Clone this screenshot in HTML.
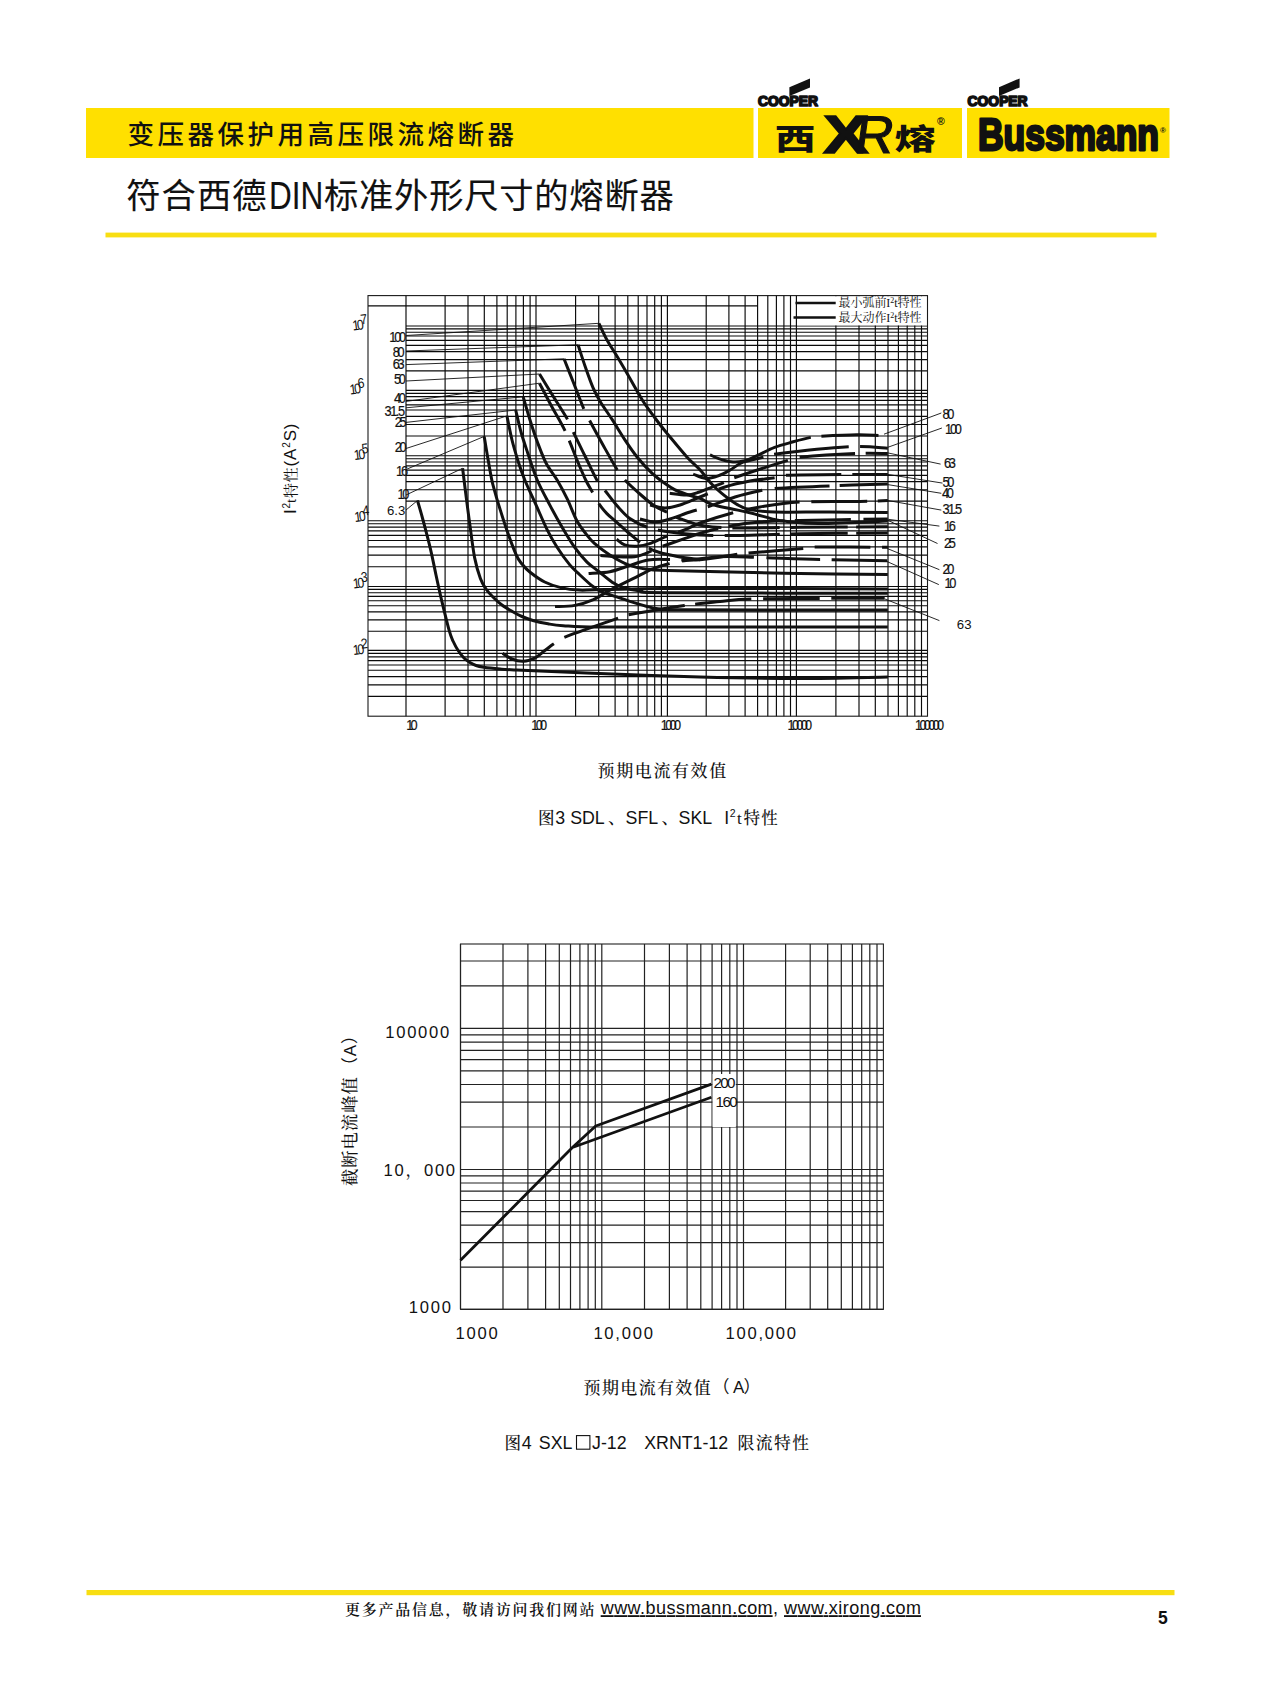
<!DOCTYPE html>
<html lang="zh-CN"><head><meta charset="utf-8"><title>变压器保护用高压限流熔断器</title>
<style>html,body{margin:0;padding:0;background:#fff}body{width:1287px;height:1689px;overflow:hidden}svg{display:block}text{white-space:pre}</style>
</head><body>
<svg width="1287" height="1689" viewBox="0 0 1287 1689">
<rect width="1287" height="1689" fill="#fff"/>
<g id="header">
<rect x="86" y="108" width="667.5" height="50" fill="#FFE000"/>
<rect x="758" y="108" width="204" height="50" fill="#FFE000"/>
<rect x="967" y="108" width="202.5" height="50" fill="#FFE000"/>
<text x="127.5" y="144" font-family='"Liberation Sans","Noto Sans CJK SC",sans-serif' font-size="26.5" font-weight="500" letter-spacing="3.5" fill="#111">变压器保护用高压限流熔断器</text>
<text x="126.3" y="207.5" font-family='"Liberation Sans","Noto Sans CJK SC",sans-serif' font-size="34.3" font-weight="400" fill="#111" stroke="#111" stroke-width="0.12" letter-spacing="1.0">符合西德</text>
<text transform="translate(269,209) scale(0.83,1)" font-family='"Liberation Sans","Noto Sans CJK SC",sans-serif' font-size="38" font-weight="400" fill="#111" stroke="#111" stroke-width="0.1" letter-spacing="0">DIN</text>
<text x="324" y="207.5" font-family='"Liberation Sans","Noto Sans CJK SC",sans-serif' font-size="34.3" font-weight="400" fill="#111" stroke="#111" stroke-width="0.12" letter-spacing="0.75">标准外形尺寸的熔断器</text>
<rect x="105.5" y="232.6" width="1051" height="4.8" fill="#F8DE12"/>
<polygon points="789.4,87.2 810.0,78.4 810.0,87.4 789.4,96.0" fill="#111"/>
<text x="758.0" y="106.2" font-family='"Liberation Sans","Noto Sans CJK SC",sans-serif' font-weight="bold" font-size="15" textLength="60" lengthAdjust="spacingAndGlyphs" fill="#111" stroke="#111" stroke-width="1.7" stroke-linejoin="round">COOPER</text>
<polygon points="999.0,87.2 1019.6,78.4 1019.6,87.4 999.0,96.0" fill="#111"/>
<text x="967.6" y="106.2" font-family='"Liberation Sans","Noto Sans CJK SC",sans-serif' font-weight="bold" font-size="15" textLength="60" lengthAdjust="spacingAndGlyphs" fill="#111" stroke="#111" stroke-width="1.7" stroke-linejoin="round">COOPER</text>
<text transform="translate(775,150) scale(1.39,1)" font-family='"Liberation Sans","Noto Sans CJK SC",sans-serif' font-weight="900" font-size="29" fill="#111">西</text>
<text transform="translate(894.5,150) scale(1.41,1)" font-family='"Liberation Sans","Noto Sans CJK SC",sans-serif' font-weight="900" font-size="29" fill="#111">熔</text>
<text transform="translate(823.3,153.4) scale(1.28,1)" font-family='"Liberation Sans","Noto Sans CJK SC",sans-serif' font-weight="bold" font-size="53" fill="#111" stroke="#111" stroke-width="1.6">X</text>
<text transform="translate(853.5,153.4) scale(1.0,1) skewX(-8)" font-family='"Liberation Sans","Noto Sans CJK SC",sans-serif' font-weight="normal" font-size="53" fill="#111" stroke="#111" stroke-width="1.1">R</text>
<text x="937" y="124.5" font-family='"Liberation Sans","Noto Sans CJK SC",sans-serif' font-size="10.5" font-weight="bold" fill="#111">®</text>
<text x="978" y="150.2" font-family='"Liberation Sans","Noto Sans CJK SC",sans-serif' font-weight="bold" font-size="45" textLength="181" lengthAdjust="spacingAndGlyphs" fill="#111" stroke="#111" stroke-width="2.8" stroke-linejoin="round">Bussmann</text>
<text x="1160" y="133" font-family='"Liberation Sans","Noto Sans CJK SC",sans-serif' font-size="8" font-weight="bold" fill="#111">®</text>
</g>
<g id="chart1">
<path d="M406.0 295.6V716.2 M445.1 295.6V716.2 M468.0 295.6V716.2 M484.3 295.6V716.2 M496.9 295.6V716.2 M507.2 295.6V716.2 M515.9 295.6V716.2 M523.4 295.6V716.2 M530.1 295.6V716.2 M536.0 295.6V716.2 M575.6 295.6V716.2 M598.7 295.6V716.2 M615.1 295.6V716.2 M627.8 295.6V716.2 M638.2 295.6V716.2 M647.0 295.6V716.2 M654.7 295.6V716.2 M661.4 295.6V716.2 M667.4 295.6V716.2 M706.2 295.6V716.2 M728.9 295.6V716.2 M745.1 295.6V716.2 M757.6 295.6V716.2 M767.8 295.6V716.2 M776.4 295.6V716.2 M783.9 295.6V716.2 M790.5 295.6V716.2 M796.4 295.6V716.2 M835.9 295.6V716.2 M859.0 295.6V716.2 M875.3 295.6V716.2 M888.0 295.6V716.2 M898.4 295.6V716.2 M907.2 295.6V716.2 M914.8 295.6V716.2 M921.5 295.6V716.2 M368.0 696.4H927.5 M368.0 684.8H927.5 M368.0 676.6H927.5 M368.0 670.2H927.5 M368.0 665.0H927.5 M368.0 660.6H927.5 M368.0 656.8H927.5 M368.0 653.4H927.5 M368.0 650.4H927.5 M368.0 631.2H927.5 M368.0 619.9H927.5 M368.0 611.9H927.5 M368.0 605.7H927.5 M368.0 600.7H927.5 M368.0 596.4H927.5 M368.0 592.7H927.5 M368.0 589.4H927.5 M368.0 586.5H927.5 M368.0 566.7H927.5 M368.0 555.1H927.5 M368.0 546.9H927.5 M368.0 540.5H927.5 M368.0 535.3H927.5 M368.0 530.9H927.5 M368.0 527.1H927.5 M368.0 523.7H927.5 M368.0 520.7H927.5 M406 501.1H927.5 M406 489.7H927.5 M406 481.6H927.5 M406 475.3H927.5 M406 470.1H927.5 M406 465.8H927.5 M406 462.0H927.5 M406 458.7H927.5 M406 455.7H927.5 M406 436.0H927.5 M406 424.5H927.5 M406 416.3H927.5 M406 410.0H927.5 M406 404.8H927.5 M406 400.4H927.5 M406 396.6H927.5 M406 393.3H927.5 M406 390.3H927.5 M406 370.9H927.5 M406 359.6H927.5 M406 351.6H927.5 M406 345.4H927.5 M406 340.3H927.5 M406 336.0H927.5 M406 332.2H927.5 M406 328.9H927.5 M406 326.0H927.5 M368.0 305.9H757.6" stroke="#0a0a0a" stroke-width="1.15" fill="none"/>
<rect x="797" y="296.2" width="130" height="29.2" fill="#fff"/>
<rect x="368.0" y="295.6" width="559.5" height="420.6" fill="none" stroke="#1a1a1a" stroke-width="1.1"/>
<path d="M795.5 303H835.7M793.5 317.5H835.7" stroke="#111" stroke-width="2.4"/>
<text x="838.5" y="307.3" font-family='"Liberation Serif","Noto Serif CJK SC",serif' font-size="12" fill="#111" textLength="83">最小弧前I<tspan dy="-4" font-size="8">2</tspan><tspan dy="4">t特性</tspan></text>
<text x="838.5" y="321.8" font-family='"Liberation Serif","Noto Serif CJK SC",serif' font-size="12" fill="#111" textLength="83">最大动作I<tspan dy="-4" font-size="8">2</tspan><tspan dy="4">t特性</tspan></text>
<path d="M417.5 500.5 C418.4 503.8 420.9 512.0 423.0 520.0 C425.1 528.0 428.1 539.1 430.3 548.3 C432.5 557.5 434.1 566.1 436.0 575.0 C437.9 583.9 439.8 592.8 442.0 601.9 C444.2 611.0 447.2 623.4 449.0 629.9 C450.8 636.4 451.4 637.5 453.0 641.0 C454.6 644.5 456.5 648.0 458.3 650.8 C460.1 653.6 462.1 656.0 464.0 658.0 C465.9 660.0 467.9 661.2 469.9 662.5 C471.9 663.8 473.7 664.7 476.0 665.5 C478.3 666.3 479.9 666.6 483.9 667.2 C487.9 667.8 494.6 668.5 500.0 669.0 C505.4 669.5 502.2 669.3 516.6 670.0 C531.0 670.7 555.9 671.8 586.5 673.0 C617.1 674.2 664.4 676.1 700.0 677.0 C735.6 677.9 768.7 678.5 800.0 678.5 C831.3 678.5 873.2 677.2 887.8 677.0" stroke="#111" stroke-width="3.0" fill="none" stroke-linejoin="round"/>
<path d="M462.6 468.3 C463.1 471.9 464.1 480.6 465.3 490.0 C466.5 499.4 468.3 513.7 469.9 525.0 C471.4 536.3 472.9 548.7 474.6 557.6 C476.4 566.5 478.5 573.4 480.4 578.6 C482.3 583.8 483.9 585.9 486.0 589.0 C488.1 592.1 490.5 594.5 493.2 597.2 C495.9 599.9 498.9 602.7 502.0 605.0 C505.1 607.3 508.6 609.3 511.9 611.2 C515.2 613.1 518.5 615.0 522.0 616.5 C525.5 618.0 528.6 619.3 532.9 620.5 C537.2 621.7 543.0 622.9 548.0 623.8 C553.0 624.7 554.9 625.2 563.2 625.7 C571.6 626.2 575.3 626.9 598.1 627.1 C620.9 627.3 651.7 627.0 700.0 627.0 C748.3 627.0 856.5 627.1 887.8 627.1" stroke="#111" stroke-width="3.0" fill="none" stroke-linejoin="round"/>
<path d="M484.2 436.4 C484.8 440.0 486.5 450.7 487.8 458.0 C489.1 465.3 490.7 474.7 491.8 480.0 C492.9 485.3 493.2 485.9 494.4 490.0 C495.5 494.1 496.6 498.3 498.7 504.9 C500.8 511.5 503.8 521.5 506.7 529.8 C509.6 538.1 513.6 548.9 516.1 554.6 C518.6 560.3 519.7 561.1 522.0 564.0 C524.3 566.9 526.0 569.0 529.8 572.0 C533.6 575.0 539.5 579.4 544.7 582.0 C549.9 584.6 555.0 586.2 560.8 587.6 C566.6 589.0 572.2 589.8 579.5 590.1 C586.8 590.4 584.3 589.8 604.4 589.5 C624.5 589.2 652.8 588.4 700.0 588.3 C747.2 588.2 856.5 588.8 887.8 588.9" stroke="#111" stroke-width="3.0" fill="none" stroke-linejoin="round"/>
<path d="M506.9 415.9 C507.8 419.9 510.1 432.2 512.0 440.0 C513.9 447.8 516.4 455.8 518.5 462.5 C520.6 469.2 521.9 472.9 524.8 480.0 C527.7 487.1 532.3 496.6 536.0 504.9 C539.7 513.2 543.7 522.8 547.2 529.8 C550.7 536.8 553.4 541.4 557.1 547.2 C560.8 553.0 565.9 560.1 569.6 564.6 C573.3 569.1 575.8 571.0 579.5 574.5 C583.2 578.0 588.2 582.8 591.9 585.7 C595.6 588.6 597.8 590.0 601.9 591.9 C606.0 593.8 612.4 595.4 616.8 596.9 C621.2 598.4 623.4 599.3 628.4 600.9 C633.4 602.5 641.8 605.1 647.0 606.5 C652.2 607.9 654.0 608.5 659.5 609.0 C665.0 609.5 642.0 609.6 680.0 609.8 C718.0 610.0 853.2 610.0 887.8 610.0" stroke="#111" stroke-width="3.0" fill="none" stroke-linejoin="round"/>
<path d="M515.7 410.0 C516.6 413.7 519.0 424.8 521.0 432.0 C523.0 439.2 525.1 445.2 527.8 453.2 C530.5 461.2 533.6 471.4 537.2 480.0 C540.9 488.6 545.6 497.0 549.7 504.9 C553.9 512.8 558.0 520.2 562.1 527.3 C566.2 534.3 570.4 541.4 574.5 547.2 C578.6 553.0 582.9 558.0 587.0 562.1 C591.1 566.2 595.2 568.6 599.4 572.0 C603.6 575.4 608.4 579.7 612.2 582.2 C616.0 584.7 617.4 585.7 622.2 587.2 C627.0 588.7 633.3 590.1 640.8 591.0 C648.3 591.9 625.8 592.4 667.0 592.8 C708.2 593.2 851.0 593.2 887.8 593.3" stroke="#111" stroke-width="3.0" fill="none" stroke-linejoin="round"/>
<path d="M523.2 396.8 C524.3 400.7 527.7 412.6 530.0 420.0 C532.3 427.4 534.5 434.3 537.2 441.5 C539.9 448.7 542.7 456.6 546.0 463.0 C549.3 469.4 553.6 474.1 557.1 480.0 C560.6 485.9 563.8 491.9 567.1 498.7 C570.4 505.5 573.9 515.2 577.0 521.0 C580.1 526.8 582.8 529.8 585.7 533.5 C588.6 537.2 590.4 539.8 594.4 543.4 C598.4 547.0 604.1 551.3 609.8 554.9 C615.5 558.5 622.2 562.4 628.4 564.8 C634.6 567.2 640.6 568.3 647.0 569.2 C653.4 570.1 654.8 570.0 667.0 570.4 C679.2 570.8 697.8 571.2 720.0 571.7 C742.2 572.2 772.0 573.0 800.0 573.5 C828.0 574.0 873.2 574.2 887.8 574.4" stroke="#111" stroke-width="3.0" fill="none" stroke-linejoin="round"/>
<path d="M578.0 344.8 C579.2 348.3 582.5 358.8 585.0 366.0 C587.5 373.2 590.6 382.0 593.1 387.9 C595.6 393.8 596.8 395.9 600.0 401.2 C603.2 406.5 608.2 413.5 612.4 419.9 C616.5 426.3 620.8 433.6 624.9 439.8 C629.0 446.0 632.8 451.6 637.3 457.2 C641.8 462.8 647.6 469.0 652.2 473.4 C656.8 477.8 661.0 480.6 664.7 483.3 C668.4 486.0 670.9 487.7 674.6 489.6 C678.3 491.5 682.9 493.0 687.1 494.5 C691.3 496.0 695.8 496.7 700.0 498.4 C704.2 500.1 707.4 502.9 712.4 504.6 C717.4 506.3 723.8 507.1 730.0 508.5 C736.2 509.9 742.4 510.9 749.8 512.7 C757.2 514.5 768.4 518.0 774.6 519.5 C780.8 521.0 779.4 520.8 787.0 521.5 C794.6 522.2 803.2 523.6 820.0 523.5 C836.8 523.4 876.5 521.5 887.8 521.1" stroke="#111" stroke-width="3.0" fill="none" stroke-linejoin="round"/>
<path d="M598.9 323.3 C600.2 326.1 604.1 334.7 607.0 340.0 C609.9 345.3 612.9 349.5 616.4 355.3 C619.9 361.1 623.7 367.6 628.0 375.0 C632.3 382.4 637.8 392.8 642.3 400.0 C646.8 407.2 650.9 412.4 655.0 418.0 C659.1 423.6 661.9 427.1 667.2 433.6 C672.6 440.1 681.6 451.2 687.1 457.2 C692.6 463.2 695.8 465.2 700.0 469.8 C704.2 474.4 708.2 480.4 712.4 484.7 C716.5 489.0 720.8 492.6 724.9 495.9 C729.0 499.2 733.1 502.3 737.3 504.6 C741.4 506.9 743.6 508.4 749.8 509.6 C756.0 510.8 761.2 511.6 774.6 512.0 C788.0 512.4 811.1 511.9 830.0 512.0 C848.9 512.1 878.2 512.3 887.8 512.4" stroke="#111" stroke-width="3.0" fill="none" stroke-linejoin="round"/>
<path d="M539.5 383.2 C541.6 387.2 547.7 399.0 552.0 407.0 C556.3 415.0 560.9 422.2 565.1 431.0 C569.3 439.8 573.6 451.8 577.0 460.0 C580.4 468.2 583.1 474.6 585.7 480.0 C588.3 485.4 590.4 488.5 592.6 492.4 C594.8 496.3 596.4 500.1 598.8 503.6 C601.2 507.1 603.9 510.5 606.9 513.6 C609.9 516.7 613.1 519.0 616.8 522.3 C620.5 525.6 625.4 530.2 629.3 533.5 C633.2 536.8 635.7 539.3 640.0 542.2 C644.3 545.1 649.2 548.7 655.0 551.0 C660.8 553.3 667.5 554.5 675.0 556.0 C682.5 557.5 695.8 559.2 700.0 559.8" stroke="#111" stroke-width="3.0" fill="none" stroke-dasharray="54.2 10.5 56.9 12.8 56.7 10.5 57.8 0.0"/>
<path d="M539.5 374.0 C541.8 377.7 548.3 388.4 553.0 396.0 C557.7 403.6 564.1 413.4 567.5 419.4 C570.9 425.4 570.4 426.1 573.3 432.2 C576.2 438.3 581.0 447.9 585.0 456.0 C589.0 464.1 594.1 475.4 597.4 481.1 C600.7 486.9 601.6 486.4 604.9 490.5 C608.2 494.6 613.1 501.3 617.3 506.0 C621.4 510.7 624.8 515.0 629.8 518.5 C634.8 522.0 640.5 525.0 647.2 527.2 C653.9 529.5 661.2 530.7 670.0 532.0 C678.8 533.3 688.3 534.4 700.0 535.0 C711.7 535.6 723.3 535.7 740.0 535.5 C756.7 535.3 775.4 534.2 800.0 533.8 C824.6 533.4 873.2 533.1 887.8 533.0" stroke="#111" stroke-width="3.0" fill="none" stroke-dasharray="53.3 14.1 54.5 12.1 57.1 11.0 55.9 11.4 55.1 11.2 56.6 8.4 36.8 0.0"/>
<path d="M564.0 358.8 C565.7 363.0 570.7 375.6 574.0 384.0 C577.3 392.4 581.2 402.8 583.8 408.9 C586.4 415.0 586.4 414.5 589.6 420.5 C592.8 426.5 598.4 436.8 603.0 445.0 C607.6 453.2 613.7 464.2 617.3 470.0 C620.9 475.8 620.6 475.6 624.8 479.9 C628.9 484.2 637.2 491.6 642.2 496.0 C647.2 500.4 650.5 503.3 654.6 506.0 C658.7 508.7 662.9 510.1 667.0 512.2 C671.1 514.3 673.3 516.2 679.5 518.5 C685.7 520.8 694.3 524.4 704.4 526.0 C714.5 527.6 724.1 527.8 740.0 528.0 C755.9 528.2 775.4 527.5 800.0 527.3 C824.6 527.1 873.2 526.8 887.8 526.7" stroke="#111" stroke-width="3.0" fill="none" stroke-dasharray="53.9 13.0 56.7 12.5 53.5 10.3 46.9 11.1 47.2 11.3 56.6 8.4 36.8 0.0"/>
<path d="M710.0 454.8 C711.5 455.4 715.2 457.5 718.7 458.6 C722.2 459.8 726.9 461.3 731.0 461.7 C735.1 462.1 739.3 461.9 743.5 461.0 C747.7 460.1 750.8 458.4 756.0 456.1 C761.2 453.8 768.4 449.8 774.6 447.4 C780.8 445.0 787.3 443.5 793.3 441.8 C799.3 440.1 806.0 438.3 810.7 437.4 C815.4 436.5 813.6 436.6 821.3 436.2 C829.0 435.8 847.5 434.9 857.0 434.8 C866.5 434.7 874.9 435.3 878.5 435.4" stroke="#111" stroke-width="3.0" fill="none" stroke-dasharray="106.3 10.7 62.2 0.0"/>
<path d="M693.2 474.1 C695.3 474.8 701.5 478.1 705.7 478.4 C709.9 478.7 714.1 477.3 718.2 475.9 C722.4 474.4 726.5 472.0 730.6 469.7 C734.7 467.4 737.5 464.3 743.0 462.2 C748.5 460.1 758.2 458.6 763.4 457.3 C768.6 456.0 759.8 456.0 774.0 454.2 C788.2 452.4 829.6 447.7 848.6 446.7 C867.6 445.7 881.3 448.0 887.8 448.3" stroke="#111" stroke-width="3.0" fill="none" stroke-dasharray="75.5 11.6 75.0 11.2 33.1 0.0"/>
<path d="M669.7 493.3 C672.6 493.6 682.0 495.3 687.0 495.1 C692.0 494.9 695.4 493.3 699.5 492.0 C703.6 490.7 707.9 488.7 711.9 487.1 C715.9 485.6 720.1 484.2 723.8 482.7 C727.5 481.1 723.6 481.5 734.2 477.8 C744.9 474.1 776.8 463.8 787.7 460.4 C798.6 457.0 788.3 458.4 799.5 457.3 C810.7 456.2 840.2 454.2 854.9 453.6 C869.6 453.0 882.3 453.5 887.8 453.5" stroke="#111" stroke-width="3.0" fill="none" stroke-dasharray="56.4 11.6 56.3 12.4 55.5 10.6 27.3 0.0"/>
<path d="M650.0 505.0 C652.5 505.5 660.0 508.0 665.0 508.0 C670.0 508.0 674.2 506.8 680.0 505.0 C685.8 503.2 692.5 500.0 700.0 497.0 C707.5 494.0 716.6 489.7 724.9 487.0 C733.2 484.3 741.7 482.5 750.0 481.0 C758.3 479.5 768.6 478.8 774.6 477.8 C780.6 476.9 774.7 475.9 785.8 475.3 C796.9 474.8 824.2 474.6 841.2 474.5 C858.2 474.4 880.0 474.4 887.8 474.4" stroke="#111" stroke-width="3.0" fill="none" stroke-dasharray="60.8 11.5 57.4 11.7 55.4 11.1 40.5 0.0"/>
<path d="M640.0 519.0 C642.5 519.5 650.0 522.0 655.0 522.0 C660.0 522.0 664.2 520.7 670.0 519.0 C675.8 517.3 683.2 514.2 690.0 512.0 C696.8 509.8 703.1 508.3 710.6 505.8 C718.1 503.3 726.4 499.6 735.0 497.0 C743.6 494.4 755.6 491.7 762.2 490.3 C768.8 488.9 763.4 489.1 774.6 488.4 C785.8 487.7 810.5 486.6 829.4 485.9 C848.3 485.2 878.1 484.3 887.8 484.0" stroke="#111" stroke-width="3.0" fill="none" stroke-dasharray="58.9 11.6 56.9 12.6 54.9 10.2 53.2 0.0"/>
<path d="M616.6 539.3 C618.0 540.2 621.3 543.8 624.7 544.9 C628.1 546.0 632.9 546.4 637.0 546.2 C641.1 546.0 644.6 545.4 649.6 543.7 C654.6 542.0 661.2 538.5 667.0 536.2 C672.8 533.9 678.9 532.2 684.4 530.0 C689.9 527.8 691.9 525.9 700.0 523.0 C708.1 520.1 723.0 515.4 733.0 512.7 C743.0 510.0 748.9 508.8 760.0 507.0 C771.1 505.2 782.8 503.0 799.5 502.1 C816.2 501.2 845.3 501.8 860.0 501.5 C874.7 501.2 883.2 500.7 887.8 500.5" stroke="#111" stroke-width="3.0" fill="none" stroke-dasharray="54.2 11.7 58.5 12.4 55.0 11.8 55.6 10.8 15.1 0.0"/>
<path d="M600.4 555.5 C606.1 555.7 624.8 558.1 634.6 556.7 C644.5 555.4 651.2 550.4 659.5 547.4 C667.8 544.4 677.1 541.2 684.4 538.7 C691.6 536.2 695.4 534.6 703.0 532.5 C710.6 530.4 720.5 527.8 730.0 526.0 C739.5 524.2 748.3 522.9 760.0 522.0 C771.7 521.1 778.7 521.0 800.0 520.5 C821.3 520.0 873.2 519.2 887.8 519.0" stroke="#111" stroke-width="3.0" fill="none" stroke-dasharray="52.3 12.0 58.3 10.9 56.1 10.4 55.8 12.5 29.5 0.0"/>
<path d="M588.6 573.5 C592.1 573.2 603.2 573.0 609.8 571.7 C616.4 570.5 622.0 568.0 628.4 566.0 C634.8 564.0 641.4 561.1 648.3 560.0 C655.2 558.9 661.4 559.5 670.0 559.5 C678.6 559.5 688.8 560.7 700.0 559.8 C711.2 558.9 729.2 555.3 737.3 554.2 C745.4 553.1 737.5 553.9 748.5 553.0 C759.5 552.1 792.2 549.6 803.2 548.6 C814.2 547.6 800.3 547.3 814.4 547.1 C828.5 546.9 875.6 547.3 887.8 547.3" stroke="#111" stroke-width="3.0" fill="none" stroke-dasharray="83.3 11.5 56.2 11.3 54.9 12.2 55.5 11.8 11.1 0.0"/>
<path d="M555.0 606.6 C558.3 606.4 568.4 606.6 574.8 605.4 C581.2 604.2 587.7 602.1 593.5 599.6 C599.3 597.1 603.2 593.7 609.8 590.2 C616.4 586.7 625.8 582.2 633.0 578.6 C640.2 575.0 647.2 571.1 653.3 568.6 C659.4 566.1 664.7 564.9 669.5 563.6 C674.3 562.3 673.5 562.1 681.9 561.0 C690.3 559.9 707.0 557.3 720.0 556.7 C733.0 556.1 743.3 557.0 760.0 557.5 C776.7 558.0 798.8 559.0 820.0 559.5 C841.2 560.0 876.0 560.5 887.2 560.7" stroke="#111" stroke-width="3.0" fill="none" stroke-dasharray="123.9 12.7 72.4 12.5 53.5 11.6 60.6 0.0"/>
<path d="M502.6 653.2 C504.2 654.2 508.4 657.6 511.9 659.0 C515.4 660.4 519.6 661.5 523.5 661.3 C527.4 661.1 531.7 659.5 535.2 657.8 C538.7 656.0 541.4 653.1 544.5 650.8 C547.6 648.5 550.5 646.0 553.8 643.8 C557.1 641.5 553.6 641.6 564.3 637.3 C575.0 633.0 607.3 622.0 618.0 618.2 C628.7 614.4 617.3 616.8 628.4 614.7 C639.5 612.6 673.3 607.1 684.4 605.4 C695.5 603.6 689.0 604.9 694.9 604.2 C700.8 603.6 710.6 602.4 720.0 601.5 C729.4 600.6 734.4 599.5 751.0 599.0 C767.6 598.5 797.1 598.5 819.4 598.4 C841.7 598.3 873.8 598.3 884.7 598.3" stroke="#111" stroke-width="3.0" fill="none" stroke-dasharray="58.5 12.5 57.0 11.3 56.8 10.6 56.4 11.9 56.5 11.8 58.5 0.0"/>
<path d="M406.2 335.5L598.9 323.3 M406 351L578 344.8 M406 364.6L564 358.8 M406 381L539.5 374 M406 401.4L539.5 383.2 M406 407.8L523.2 396.8 M406 422.4L515.7 410 M406 448.5L506.9 415.9 M406 469.5L484.2 436.4 M406 495L462.6 468.3 M406 510L417.5 500.5 M884 434.2L941.3 413 M887.8 447.3L941.9 428 M887.8 452.9L940.6 464.1 M887.8 474.4L942.5 483.1 M887.8 484.6L941.3 493.3 M887.8 500.5L941.3 510.1 M888.2 519.3L939.4 526.1 M888.2 520.5L937.5 543.5 M887.2 548.5L939.4 569.7 M885.9 561L938.8 584.6 M884.7 598.9L939.4 620.6" stroke="#111" stroke-width="0.9" fill="none"/>
<text transform="translate(389.3,341.5) scale(0.9,1)" font-family='"Liberation Sans","Noto Sans CJK SC",sans-serif' font-size="14.2" letter-spacing="-2.5" fill="#111" stroke="#111" stroke-width="0.2">100</text>
<text transform="translate(392.7,357.2) scale(0.9,1)" font-family='"Liberation Sans","Noto Sans CJK SC",sans-serif' font-size="14.2" letter-spacing="-2.5" fill="#111" stroke="#111" stroke-width="0.2">80</text>
<text transform="translate(392.7,369.4) scale(0.9,1)" font-family='"Liberation Sans","Noto Sans CJK SC",sans-serif' font-size="14.2" letter-spacing="-2.5" fill="#111" stroke="#111" stroke-width="0.2">63</text>
<text transform="translate(394.0,384.4) scale(0.9,1)" font-family='"Liberation Sans","Noto Sans CJK SC",sans-serif' font-size="14.2" letter-spacing="-2.5" fill="#111" stroke="#111" stroke-width="0.2">50</text>
<text transform="translate(394.0,402.8) scale(0.9,1)" font-family='"Liberation Sans","Noto Sans CJK SC",sans-serif' font-size="14.2" letter-spacing="-2.5" fill="#111" stroke="#111" stroke-width="0.2">40</text>
<text transform="translate(394.7,426.6) scale(0.9,1)" font-family='"Liberation Sans","Noto Sans CJK SC",sans-serif' font-size="14.2" letter-spacing="-2.5" fill="#111" stroke="#111" stroke-width="0.2">25</text>
<text transform="translate(394.7,451.8) scale(0.9,1)" font-family='"Liberation Sans","Noto Sans CJK SC",sans-serif' font-size="14.2" letter-spacing="-2.5" fill="#111" stroke="#111" stroke-width="0.2">20</text>
<text transform="translate(396.1,475.6) scale(0.9,1)" font-family='"Liberation Sans","Noto Sans CJK SC",sans-serif' font-size="14.2" letter-spacing="-2.5" fill="#111" stroke="#111" stroke-width="0.2">16</text>
<text transform="translate(397.5,499.4) scale(0.9,1)" font-family='"Liberation Sans","Noto Sans CJK SC",sans-serif' font-size="14.2" letter-spacing="-2.5" fill="#111" stroke="#111" stroke-width="0.2">10</text>
<text transform="translate(384.5,416.4) scale(0.9,1)" font-family='"Liberation Sans","Noto Sans CJK SC",sans-serif' font-size="14.2" letter-spacing="-1.6" fill="#111" stroke="#111" stroke-width="0.2">31.5</text>
<text x="387.0" y="515.0" font-family='"Liberation Sans","Noto Sans CJK SC",sans-serif' font-size="13.2" fill="#111">6.3</text>
<text transform="translate(942.5,419.3) scale(0.9,1)" font-family='"Liberation Sans","Noto Sans CJK SC",sans-serif' font-size="14.2" letter-spacing="-2.5" fill="#111" stroke="#111" stroke-width="0.2">80</text>
<text transform="translate(945.1,433.6) scale(0.9,1)" font-family='"Liberation Sans","Noto Sans CJK SC",sans-serif' font-size="14.2" letter-spacing="-2.5" fill="#111" stroke="#111" stroke-width="0.2">100</text>
<text transform="translate(943.9,467.8) scale(0.9,1)" font-family='"Liberation Sans","Noto Sans CJK SC",sans-serif' font-size="14.2" letter-spacing="-2.5" fill="#111" stroke="#111" stroke-width="0.2">63</text>
<text transform="translate(942.5,487.0) scale(0.9,1)" font-family='"Liberation Sans","Noto Sans CJK SC",sans-serif' font-size="14.2" letter-spacing="-2.5" fill="#111" stroke="#111" stroke-width="0.2">50</text>
<text transform="translate(942.0,498.3) scale(0.9,1)" font-family='"Liberation Sans","Noto Sans CJK SC",sans-serif' font-size="14.2" letter-spacing="-2.5" fill="#111" stroke="#111" stroke-width="0.2">40</text>
<text transform="translate(943.9,530.8) scale(0.9,1)" font-family='"Liberation Sans","Noto Sans CJK SC",sans-serif' font-size="14.2" letter-spacing="-2.5" fill="#111" stroke="#111" stroke-width="0.2">16</text>
<text transform="translate(943.9,547.9) scale(0.9,1)" font-family='"Liberation Sans","Noto Sans CJK SC",sans-serif' font-size="14.2" letter-spacing="-2.5" fill="#111" stroke="#111" stroke-width="0.2">25</text>
<text transform="translate(942.5,574.0) scale(0.9,1)" font-family='"Liberation Sans","Noto Sans CJK SC",sans-serif' font-size="14.2" letter-spacing="-2.5" fill="#111" stroke="#111" stroke-width="0.2">20</text>
<text transform="translate(944.5,588.3) scale(0.9,1)" font-family='"Liberation Sans","Noto Sans CJK SC",sans-serif' font-size="14.2" letter-spacing="-2.5" fill="#111" stroke="#111" stroke-width="0.2">10</text>
<text transform="translate(942.5,513.8) scale(0.9,1)" font-family='"Liberation Sans","Noto Sans CJK SC",sans-serif' font-size="14.2" letter-spacing="-1.9" fill="#111" stroke="#111" stroke-width="0.2">31.5</text>
<text x="956.8" y="628.7" font-family='"Liberation Sans","Noto Sans CJK SC",sans-serif' font-size="13.2" fill="#111">63</text>
<text transform="translate(406.2,730.2) scale(0.9,1)" font-family='"Liberation Sans","Noto Sans CJK SC",sans-serif' font-size="14.2" letter-spacing="-3.0" fill="#111" stroke="#111" stroke-width="0.2">10</text>
<text transform="translate(531.3,730.2) scale(0.9,1)" font-family='"Liberation Sans","Noto Sans CJK SC",sans-serif' font-size="14.2" letter-spacing="-3.0" fill="#111" stroke="#111" stroke-width="0.2">100</text>
<text transform="translate(660.8,730.2) scale(0.9,1)" font-family='"Liberation Sans","Noto Sans CJK SC",sans-serif' font-size="14.2" letter-spacing="-3.0" fill="#111" stroke="#111" stroke-width="0.2">1000</text>
<text transform="translate(787.5,730.2) scale(0.9,1)" font-family='"Liberation Sans","Noto Sans CJK SC",sans-serif' font-size="14.2" letter-spacing="-3.0" fill="#111" stroke="#111" stroke-width="0.2">10000</text>
<text transform="translate(915.0,730.2) scale(0.9,1)" font-family='"Liberation Sans","Noto Sans CJK SC",sans-serif' font-size="14.2" letter-spacing="-3.0" fill="#111" stroke="#111" stroke-width="0.2">100000</text>
<g transform="translate(353,330.6) rotate(-7)"><text transform="scale(0.86,1)" font-family='"Liberation Sans","Noto Sans CJK SC",sans-serif' font-size="14.2" letter-spacing="-2.55" fill="#111">10</text><text transform="translate(8.6,-5.2) scale(0.86,1)" font-family='"Liberation Sans","Noto Sans CJK SC",sans-serif' font-size="14.2" fill="#111">7</text></g>
<g transform="translate(350.3,394.4) rotate(-7)"><text transform="scale(0.86,1)" font-family='"Liberation Sans","Noto Sans CJK SC",sans-serif' font-size="14.2" letter-spacing="-2.55" fill="#111">10</text><text transform="translate(8.6,-5.2) scale(0.86,1)" font-family='"Liberation Sans","Noto Sans CJK SC",sans-serif' font-size="14.2" fill="#111">6</text></g>
<g transform="translate(354.4,460) rotate(-7)"><text transform="scale(0.86,1)" font-family='"Liberation Sans","Noto Sans CJK SC",sans-serif' font-size="14.2" letter-spacing="-2.55" fill="#111">10</text><text transform="translate(8.6,-5.2) scale(0.86,1)" font-family='"Liberation Sans","Noto Sans CJK SC",sans-serif' font-size="14.2" fill="#111">5</text></g>
<g transform="translate(355,521.9) rotate(-7)"><text transform="scale(0.86,1)" font-family='"Liberation Sans","Noto Sans CJK SC",sans-serif' font-size="14.2" letter-spacing="-2.55" fill="#111">10</text><text transform="translate(8.6,-5.2) scale(0.86,1)" font-family='"Liberation Sans","Noto Sans CJK SC",sans-serif' font-size="14.2" fill="#111">4</text></g>
<g transform="translate(353.5,588.5) rotate(-7)"><text transform="scale(0.86,1)" font-family='"Liberation Sans","Noto Sans CJK SC",sans-serif' font-size="14.2" letter-spacing="-2.55" fill="#111">10</text><text transform="translate(8.6,-5.2) scale(0.86,1)" font-family='"Liberation Sans","Noto Sans CJK SC",sans-serif' font-size="14.2" fill="#111">3</text></g>
<g transform="translate(353.5,655) rotate(-7)"><text transform="scale(0.86,1)" font-family='"Liberation Sans","Noto Sans CJK SC",sans-serif' font-size="14.2" letter-spacing="-2.55" fill="#111">10</text><text transform="translate(8.6,-5.2) scale(0.86,1)" font-family='"Liberation Sans","Noto Sans CJK SC",sans-serif' font-size="14.2" fill="#111">2</text></g>
<text transform="translate(296,514) rotate(-90)" font-family='"Liberation Sans","Noto Sans CJK SC",sans-serif' font-size="17" fill="#111" textLength="90.5">I<tspan dy="-6" font-size="10">2</tspan><tspan dy="6" font-family='"Liberation Serif","Noto Serif CJK SC",serif' font-size="15" dx="-1">t特性</tspan>(A<tspan dy="-6" font-size="10">2</tspan><tspan dy="6">S)</tspan></text>
<text x="597.6" y="776.6" font-family='"Liberation Serif","Noto Serif CJK SC",serif' font-weight="500" font-size="17" letter-spacing="1.6" fill="#111">预期电流有效值</text>
<text y="823.6" font-family='"Liberation Sans","Noto Sans CJK SC",sans-serif' font-size="17.8" fill="#111"><tspan x="538" font-family='"Liberation Serif","Noto Serif CJK SC",serif' font-weight="500" font-size="16.6">图</tspan><tspan x="555.3">3 SDL</tspan><tspan x="608" font-family='"Liberation Serif","Noto Serif CJK SC",serif' font-weight="500" font-size="17">、</tspan><tspan x="625.6">SFL</tspan><tspan x="661.5" font-family='"Liberation Serif","Noto Serif CJK SC",serif' font-weight="500" font-size="17">、</tspan><tspan x="678.6">SKL</tspan><tspan x="724.2">I</tspan><tspan x="729.8" dy="-6.5" font-size="10.5">2</tspan><tspan x="737" dy="6.5" font-family='"Liberation Serif","Noto Serif CJK SC",serif' font-weight="500" font-size="17">t</tspan><tspan x="743.6" font-family='"Liberation Serif","Noto Serif CJK SC",serif' font-weight="500" font-size="16.6" letter-spacing="1">特性</tspan></text>
</g>
<g id="chart2">
<path d="M460.5 944.0V1309.3 M503.0 944.0V1309.3 M527.9 944.0V1309.3 M545.6 944.0V1309.3 M559.3 944.0V1309.3 M570.5 944.0V1309.3 M579.9 944.0V1309.3 M588.1 944.0V1309.3 M595.3 944.0V1309.3 M601.8 944.0V1309.3 M644.5 944.0V1309.3 M669.4 944.0V1309.3 M687.1 944.0V1309.3 M700.8 944.0V1309.3 M712.1 944.0V1309.3 M721.6 944.0V1309.3 M729.8 944.0V1309.3 M737.0 944.0V1309.3 M743.5 944.0V1309.3 M785.6 944.0V1309.3 M810.2 944.0V1309.3 M827.7 944.0V1309.3 M841.3 944.0V1309.3 M852.4 944.0V1309.3 M861.7 944.0V1309.3 M869.8 944.0V1309.3 M877.0 944.0V1309.3 M460.5 1309.3H883.4 M460.5 1267.2H883.4 M460.5 1242.6H883.4 M460.5 1225.1H883.4 M460.5 1211.6H883.4 M460.5 1200.5H883.4 M460.5 1191.2H883.4 M460.5 1183.0H883.4 M460.5 1175.9H883.4 M460.5 1169.5H883.4 M460.5 1127.0H883.4 M460.5 1102.2H883.4 M460.5 1084.5H883.4 M460.5 1070.9H883.4 M460.5 1059.7H883.4 M460.5 1050.3H883.4 M460.5 1042.1H883.4 M460.5 1034.9H883.4 M460.5 1028.4H883.4 M460.5 985.9H883.4 M460.5 961.0H883.4" stroke="#222" stroke-width="1.2" fill="none"/>
<rect x="460.5" y="944.0" width="422.9" height="365.29999999999995" fill="none" stroke="#222" stroke-width="1.1"/>
<rect x="712.6" y="1074" width="23.2" height="53" fill="#fff"/>
<path d="M460.5 1260.3L572.4 1147.5L595.7 1126L711.4 1084.1M572.4 1147.5L711.4 1097.2" stroke="#111" stroke-width="2.8" fill="none" stroke-linejoin="round"/>
<text x="713.4" y="1088" font-family='"Liberation Sans","Noto Sans CJK SC",sans-serif' font-size="15.2" fill="#111" letter-spacing="-1.6">200</text>
<text x="715.6" y="1107.4" font-family='"Liberation Sans","Noto Sans CJK SC",sans-serif' font-size="15.2" fill="#111" letter-spacing="-1.6">160</text>
<text x="385.2" y="1038.4" font-family='"Liberation Sans","Noto Sans CJK SC",sans-serif' font-size="16.6" fill="#111" letter-spacing="1.75">100000</text>
<text x="383.6" y="1176.4" font-family='"Liberation Sans","Noto Sans CJK SC",sans-serif' font-size="16.6" fill="#111" letter-spacing="1.75">10<tspan font-family='"Liberation Serif","Noto Serif CJK SC",serif'>，</tspan>000</text>
<text x="408.8" y="1313.2" font-family='"Liberation Sans","Noto Sans CJK SC",sans-serif' font-size="16.6" fill="#111" letter-spacing="1.75">1000</text>
<text x="455.5" y="1339.3" font-family='"Liberation Sans","Noto Sans CJK SC",sans-serif' font-size="16.6" fill="#111" letter-spacing="1.75">1000</text>
<text x="593.4" y="1339.3" font-family='"Liberation Sans","Noto Sans CJK SC",sans-serif' font-size="16.6" fill="#111" letter-spacing="1.75">10,000</text>
<text x="725.5" y="1339.3" font-family='"Liberation Sans","Noto Sans CJK SC",sans-serif' font-size="16.6" fill="#111" letter-spacing="1.75">100,000</text>
<text transform="translate(356.3,1186) rotate(-90)" font-family='"Liberation Serif","Noto Serif CJK SC",serif' font-weight="500" font-size="17.4" fill="#111" letter-spacing="0.9">截断电流峰值<tspan font-family='"Liberation Sans","Noto Sans CJK SC",sans-serif' font-weight="400" font-size="17" dx="2">（A）</tspan></text>
<text x="583.6" y="1393.6" font-family='"Liberation Serif","Noto Serif CJK SC",serif' font-weight="500" font-size="17" letter-spacing="1.35" fill="#111">预期电流有效值</text>
<text y="1393.2" font-family='"Liberation Sans","Noto Sans CJK SC",sans-serif' font-size="17" fill="#111"><tspan x="712.5">（</tspan><tspan x="733">A</tspan><tspan x="743.5">）</tspan></text>
<text y="1449" font-family='"Liberation Sans","Noto Sans CJK SC",sans-serif' font-size="17.8" fill="#111"><tspan x="504.5" font-family='"Liberation Serif","Noto Serif CJK SC",serif' font-weight="500" font-size="16.6">图</tspan><tspan x="521.8">4</tspan><tspan x="538.8">SXL</tspan><tspan x="592">J-12</tspan><tspan x="644.2">XRNT1-12</tspan><tspan x="737.5" font-family='"Liberation Serif","Noto Serif CJK SC",serif' font-weight="500" font-size="16.8" letter-spacing="1.5">限流特性</tspan></text>
<rect x="576.5" y="1435.6" width="13.4" height="13.6" fill="none" stroke="#111" stroke-width="1.1"/>
</g>
<g id="footer">
<rect x="86.5" y="1590" width="1088" height="5.2" fill="#F8DE12"/>
<text x="345" y="1614.8" font-family='"Liberation Serif","Noto Serif CJK SC",serif' font-size="15" font-weight="600" letter-spacing="1.75" fill="#111">更多产品信息，敬请访问我们网站</text>
<text x="600.7" y="1614.2" font-family='"Liberation Sans","Noto Sans CJK SC",sans-serif' font-size="18" fill="#111" textLength="320.3"><tspan text-decoration="underline">www.bussmann.com</tspan>, <tspan text-decoration="underline">www.xirong.com</tspan></text>
<text x="1158" y="1624.3" font-family='"Liberation Sans","Noto Sans CJK SC",sans-serif' font-size="17.5" font-weight="bold" fill="#111">5</text>
</g>
</svg>
</body></html>
